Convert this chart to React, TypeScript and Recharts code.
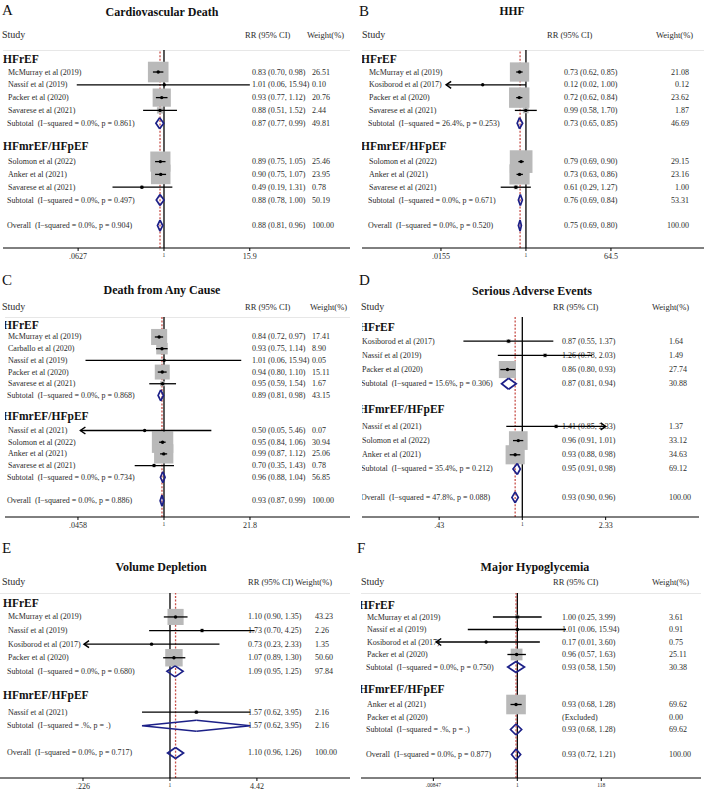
import React from "react";
import { ComposedChart, XAxis, YAxis, Scatter, ReferenceLine } from "recharts";

type Trial = { study: string; rr: number | null; lo: number | null; hi: number | null; w: number; arrow?: "lo" | "hi" };
type Pool = { rr: number; lo: number; hi: number; w: number; i2: string; p: string };

// A. Cardiovascular death
const cvdReduced: Trial[] = [
  { study: "McMurray et al (2019)", rr: 0.83, lo: 0.7, hi: 0.98, w: 26.51 },
  { study: "Nassif et al (2019)", rr: 1.01, lo: 0.06, hi: 15.94, w: 0.1 },
  { study: "Packer et al (2020)", rr: 0.93, lo: 0.77, hi: 1.12, w: 20.76 },
  { study: "Savarese et al (2021)", rr: 0.88, lo: 0.51, hi: 1.52, w: 2.44 },
];
const cvdReducedSub: Pool = { rr: 0.87, lo: 0.77, hi: 0.99, w: 49.81, i2: "0.0", p: "0.861" };
const cvdPreserved: Trial[] = [
  { study: "Solomon et al (2022)", rr: 0.89, lo: 0.75, hi: 1.05, w: 25.46 },
  { study: "Anker et al (2021)", rr: 0.9, lo: 0.75, hi: 1.07, w: 23.95 },
  { study: "Savarese et al (2021)", rr: 0.49, lo: 0.19, hi: 1.31, w: 0.78 },
];
const cvdPreservedSub: Pool = { rr: 0.88, lo: 0.78, hi: 1.0, w: 50.19, i2: "0.0", p: "0.497" };
const cvdOverall: Pool = { rr: 0.88, lo: 0.81, hi: 0.96, w: 100, i2: "0.0", p: "0.904" };

// B. Hospitalisation for heart failure
const hhfReduced: Trial[] = [
  { study: "McMurray et al (2019)", rr: 0.73, lo: 0.62, hi: 0.85, w: 21.08 },
  { study: "Kosiborod et al (2017)", rr: 0.12, lo: 0.02, hi: 1.0, w: 0.12, arrow: "lo" },
  { study: "Packer et al (2020)", rr: 0.72, lo: 0.62, hi: 0.84, w: 23.62 },
  { study: "Savarese et al (2021)", rr: 0.99, lo: 0.58, hi: 1.7, w: 1.87 },
];
const hhfReducedSub: Pool = { rr: 0.73, lo: 0.65, hi: 0.85, w: 46.69, i2: "26.4", p: "0.253" };
const hhfPreserved: Trial[] = [
  { study: "Solomon et al (2022)", rr: 0.79, lo: 0.69, hi: 0.9, w: 29.15 },
  { study: "Anker et al (2021)", rr: 0.73, lo: 0.63, hi: 0.86, w: 23.16 },
  { study: "Savarese et al (2021)", rr: 0.61, lo: 0.29, hi: 1.27, w: 1.0 },
];
const hhfPreservedSub: Pool = { rr: 0.76, lo: 0.69, hi: 0.84, w: 53.31, i2: "0.0", p: "0.671" };
const hhfOverall: Pool = { rr: 0.75, lo: 0.69, hi: 0.8, w: 100, i2: "0.0", p: "0.520" };

// C. Death from any cause
const acmReduced: Trial[] = [
  { study: "McMurray et al (2019)", rr: 0.84, lo: 0.72, hi: 0.97, w: 17.41 },
  { study: "Carballo et al (2020)", rr: 0.93, lo: 0.75, hi: 1.14, w: 8.9 },
  { study: "Nassif et al (2019)", rr: 1.01, lo: 0.06, hi: 15.94, w: 0.05 },
  { study: "Packer et al (2020)", rr: 0.94, lo: 0.8, hi: 1.1, w: 15.11 },
  { study: "Savarese et al (2021)", rr: 0.95, lo: 0.59, hi: 1.54, w: 1.67 },
];
const acmReducedSub: Pool = { rr: 0.89, lo: 0.81, hi: 0.98, w: 43.15, i2: "0.0", p: "0.868" };
const acmPreserved: Trial[] = [
  { study: "Nassif et al (2021)", rr: 0.5, lo: 0.05, hi: 5.46, w: 0.07, arrow: "lo" },
  { study: "Solomon et al (2022)", rr: 0.95, lo: 0.84, hi: 1.06, w: 30.94 },
  { study: "Anker et al (2021)", rr: 0.99, lo: 0.87, hi: 1.12, w: 25.06 },
  { study: "Savarese et al (2021)", rr: 0.7, lo: 0.35, hi: 1.43, w: 0.78 },
];
const acmPreservedSub: Pool = { rr: 0.96, lo: 0.88, hi: 1.04, w: 56.85, i2: "0.0", p: "0.734" };
const acmOverall: Pool = { rr: 0.93, lo: 0.87, hi: 0.99, w: 100, i2: "0.0", p: "0.886" };

// D. Serious adverse events
const saeReduced: Trial[] = [
  { study: "Kosiborod et al (2017)", rr: 0.87, lo: 0.55, hi: 1.37, w: 1.64 },
  { study: "Nassif et al (2019)", rr: 1.26, lo: 0.78, hi: 2.03, w: 1.49 },
  { study: "Packer et al (2020)", rr: 0.86, lo: 0.8, hi: 0.93, w: 27.74 },
];
const saeReducedSub: Pool = { rr: 0.87, lo: 0.81, hi: 0.94, w: 30.88, i2: "15.6", p: "0.306" };
const saePreserved: Trial[] = [
  { study: "Nassif et al (2021)", rr: 1.41, lo: 0.85, hi: 2.33, w: 1.37, arrow: "hi" },
  { study: "Solomon et al (2022)", rr: 0.96, lo: 0.91, hi: 1.01, w: 33.12 },
  { study: "Anker et al (2021)", rr: 0.93, lo: 0.88, hi: 0.98, w: 34.63 },
];
const saePreservedSub: Pool = { rr: 0.95, lo: 0.91, hi: 0.98, w: 69.12, i2: "35.4", p: "0.212" };
const saeOverall: Pool = { rr: 0.93, lo: 0.9, hi: 0.96, w: 100, i2: "47.8", p: "0.088" };

// E. Volume depletion
const vdReduced: Trial[] = [
  { study: "McMurray et al (2019)", rr: 1.1, lo: 0.9, hi: 1.35, w: 43.23 },
  { study: "Nassif et al (2019)", rr: 1.73, lo: 0.7, hi: 4.25, w: 2.26 },
  { study: "Kosiborod et al (2017)", rr: 0.73, lo: 0.23, hi: 2.33, w: 1.35, arrow: "lo" },
  { study: "Packer et al (2020)", rr: 1.07, lo: 0.89, hi: 1.3, w: 50.6 },
];
const vdReducedSub: Pool = { rr: 1.09, lo: 0.95, hi: 1.25, w: 97.84, i2: "0.0", p: "0.680" };
const vdPreserved: Trial[] = [
  { study: "Nassif et al (2021)", rr: 1.57, lo: 0.62, hi: 3.95, w: 2.16 },
];
const vdPreservedSub: Pool = { rr: 1.57, lo: 0.62, hi: 3.95, w: 2.16, i2: ".", p: "." };
const vdOverall: Pool = { rr: 1.1, lo: 0.96, hi: 1.26, w: 100, i2: "0.0", p: "0.717" };

// F. Major hypoglycemia
const hypoReduced: Trial[] = [
  { study: "McMurray et al (2019)", rr: 1.0, lo: 0.25, hi: 3.99, w: 3.61 },
  { study: "Nassif et al (2019)", rr: 1.01, lo: 0.06, hi: 15.94, w: 0.91 },
  { study: "Kosiborod et al (2017)", rr: 0.17, lo: 0.01, hi: 3.6, w: 0.75, arrow: "lo" },
  { study: "Packer et al (2020)", rr: 0.96, lo: 0.57, hi: 1.63, w: 25.11 },
];
const hypoReducedSub: Pool = { rr: 0.93, lo: 0.58, hi: 1.5, w: 30.38, i2: "0.0", p: "0.750" };
const hypoPreserved: Trial[] = [
  { study: "Anker et al (2021)", rr: 0.93, lo: 0.68, hi: 1.28, w: 69.62 },
  { study: "Packer et al (2020)", rr: null, lo: null, hi: null, w: 0 },
];
const hypoPreservedSub: Pool = { rr: 0.93, lo: 0.68, hi: 1.28, w: 69.62, i2: ".", p: "." };
const hypoOverall: Pool = { rr: 0.93, lo: 0.72, hi: 1.21, w: 100, i2: "0.0", p: "0.877" };

const SERIF = '"Liberation Serif", "Times New Roman", serif';
const INK = "#2b2b2b";
const NAVY = "#1c2088";
const REDLINE = "#c8504a";

type Panel = {
  tag: string;
  title: string;
  titleSize: number;
  left: number;
  top: number;
  headY: number;
  axisY: number;
  plotL: number;
  plotR: number;
  domain: [number, number];
  ticks: number[];
  tickText: string[];
  tickSize: number;
  yDomain: [number, number];
  groups: { name: string; trials: Trial[]; sub: Pool }[];
  overall: Pool;
  boxScale: number;
  rule: boolean;
  col: { head: number; study: number; rr: number; w: number; wAnchor: "start" | "end" };
  hdr: { letterX: number; letterY: number; titleX: number; titleY: number; studyX: number; rrX: number; wX: number; y: number };
};

type Row = {
  kind: "head" | "study" | "sub" | "overall";
  pos: number;
  label: string;
  rr?: number | null;
  lo?: number | null;
  hi?: number | null;
  w?: number;
  arrow?: "lo" | "hi";
};

const groupNames = ["HFrEF", "HFmrEF/HFpEF"];

const panels: Panel[] = [
  {
    tag: "A", title: "Cardiovascular Death", titleSize: 12, left: 0, top: 0, headY: 50, axisY: 248,
    plotL: 3, plotR: 350, domain: [0.00556, 403], ticks: [0.0627, 1, 15.9], tickText: [".0627", "1", "15.9"], tickSize: 8,
    yDomain: [-0.72, 14.75],
    groups: [
      { name: groupNames[0], trials: cvdReduced, sub: cvdReducedSub },
      { name: groupNames[1], trials: cvdPreserved, sub: cvdPreservedSub },
    ],
    overall: cvdOverall, boxScale: 4.0, rule: true,
    col: { head: 3, study: 8, rr: 252, w: 312, wAnchor: "start" },
    hdr: { letterX: 2, letterY: 10, titleX: 162, titleY: 12, studyX: 2, rrX: 245, wX: 307, y: 35 },
  },
  {
    tag: "B", title: "HHF", titleSize: 11.5, left: 354, top: 0, headY: 50, axisY: 248,
    plotL: 8, plotR: 350, domain: [0.000323, 6180], ticks: [0.0155, 1, 64.5], tickText: [".0155", "1", "64.5"], tickSize: 8,
    yDomain: [-0.72, 14.75],
    groups: [
      { name: groupNames[0], trials: hhfReduced, sub: hhfReducedSub },
      { name: groupNames[1], trials: hhfPreserved, sub: hhfPreservedSub },
    ],
    overall: hhfOverall, boxScale: 4.2, rule: true,
    col: { head: 7, study: 15, rr: 210, w: 335, wAnchor: "end" },
    hdr: { letterX: 5, letterY: 11, titleX: 158, titleY: 12, studyX: 8, rrX: 193, wX: 302, y: 35 },
  },
  {
    tag: "C", title: "Death from Any Cause", titleSize: 12, left: 0, top: 265, headY: 317, axisY: 517,
    plotL: 5, plotR: 350, domain: [0.00335, 786], ticks: [0.0458, 1, 21.8], tickText: [".0458", "1", "21.8"], tickSize: 8,
    yDomain: [-0.71, 16.4],
    groups: [
      { name: groupNames[0], trials: acmReduced, sub: acmReducedSub },
      { name: groupNames[1], trials: acmPreserved, sub: acmPreservedSub },
    ],
    overall: acmOverall, boxScale: 3.85, rule: true,
    col: { head: 3, study: 8, rr: 252, w: 312, wAnchor: "start" },
    hdr: { letterX: 2, letterY: 15, titleX: 162, titleY: 25, studyX: 2, rrX: 245, wX: 310, y: 42 },
  },
  {
    tag: "D", title: "Serious Adverse Events", titleSize: 12, left: 354, top: 265, headY: 317, axisY: 517,
    plotL: 8, plotR: 345, domain: [0.1965, 6.01], ticks: [0.43, 1, 2.33], tickText: [".43", "1", "2.33"], tickSize: 8,
    yDomain: [-0.7, 13.38],
    groups: [
      { name: groupNames[0], trials: saeReduced, sub: saeReducedSub },
      { name: groupNames[1], trials: saePreserved, sub: saePreservedSub },
    ],
    overall: saeOverall, boxScale: 3.25, rule: false,
    col: { head: 5, study: 8, rr: 208, w: 315, wAnchor: "start" },
    hdr: { letterX: 5, letterY: 15, titleX: 178, titleY: 26, studyX: 7, rrX: 199, wX: 298, y: 42 },
  },
  {
    tag: "E", title: "Volume Depletion", titleSize: 12, left: 0, top: 530, headY: 593, axisY: 778,
    plotL: 0, plotR: 350, domain: [0.0547, 21.7], ticks: [0.226, 1, 4.42], tickText: [".226", "1", "4.42"], tickSize: 8,
    yDomain: [-0.76, 12.84],
    groups: [
      { name: groupNames[0], trials: vdReduced, sub: vdReducedSub },
      { name: groupNames[1], trials: vdPreserved, sub: vdPreservedSub },
    ],
    overall: vdOverall, boxScale: 2.45, rule: true,
    col: { head: 3, study: 8, rr: 248, w: 315, wAnchor: "start" },
    hdr: { letterX: 2, letterY: 18, titleX: 161, titleY: 37, studyX: 2, rrX: 248, wX: 295, y: 52 },
  },
  {
    tag: "F", title: "Major Hypoglycemia", titleSize: 12, left: 354, top: 530, headY: 593, axisY: 778,
    plotL: 7, plotR: 347, domain: [0.000139, 34100], ticks: [0.00847, 1, 118], tickText: [".00847", "1", "118"], tickSize: 5.5,
    yDomain: [-0.92, 13.88],
    groups: [
      { name: groupNames[0], trials: hypoReduced, sub: hypoReducedSub },
      { name: groupNames[1], trials: hypoPreserved, sub: hypoPreservedSub },
    ],
    overall: hypoOverall, boxScale: 2.35, rule: true,
    col: { head: 5, study: 13, rr: 208, w: 315, wAnchor: "start" },
    hdr: { letterX: 3, letterY: 18, titleX: 181, titleY: 37, studyX: 7, rrX: 199, wX: 298, y: 52 },
  },
];

// headings, studies and pooled lines laid out on a row index (y axis)
function buildRows(p: Panel): Row[] {
  const rows: Row[] = [];
  let pos = 0;
  p.groups.forEach((g, gi) => {
    if (gi > 0) pos += 1.75;
    rows.push({ kind: "head", pos, label: g.name });
    pos += gi > 0 ? 1.25 : 1;
    g.trials.forEach((t) => {
      rows.push({ kind: "study", pos, label: t.study, rr: t.rr, lo: t.lo, hi: t.hi, w: t.w, arrow: t.arrow });
      pos += 1;
    });
    const s = g.sub;
    rows.push({ kind: "sub", pos, label: `Subtotal  (I\u2212squared = ${s.i2}%, p = ${s.p})`, rr: s.rr, lo: s.lo, hi: s.hi, w: s.w });
  });
  const o = p.overall;
  rows.push({ kind: "overall", pos: pos + 2, label: `Overall  (I\u2212squared = ${o.i2}%, p = ${o.p})`, rr: o.rr, lo: o.lo, hi: o.hi, w: o.w });
  return rows;
}

const fmt = (v: number) => v.toFixed(2);
const ciText = (r: Row) => (r.rr == null ? "(Excluded)" : `${fmt(r.rr)} (${fmt(r.lo as number)}, ${fmt(r.hi as number)})`);

function CiShape(props: any) {
  const { x1, y1, x2, y2, arrow } = props;
  return (
    <g>
      <line x1={x1} y1={y1} x2={x2} y2={y2} stroke="#000" strokeWidth={1.3} />
      {arrow === "lo" && (
        <polyline points={`${x1 + 5},${y1 - 3.5} ${x1},${y1} ${x1 + 5},${y1 + 3.5}`} fill="none" stroke="#000" strokeWidth={1.5} />
      )}
      {arrow === "hi" && (
        <polyline points={`${x2 - 5},${y2 - 3.5} ${x2},${y2} ${x2 - 5},${y2 + 3.5}`} fill="none" stroke="#000" strokeWidth={1.5} />
      )}
    </g>
  );
}

// one half of a pooled-estimate diamond; the point estimate is the shared vertex
function HalfDiamond(props: any) {
  const { x1, y1, x2, side } = props;
  const h = 5.5;
  const d = side === "left" ? `M ${x2} ${y1 - h} L ${x1} ${y1} L ${x2} ${y1 + h}` : `M ${x1} ${y1 - h} L ${x2} ${y1} L ${x1} ${y1 + h}`;
  return <path d={d} fill="none" stroke={NAVY} strokeWidth={1.7} strokeLinejoin="miter" />;
}

// row text: only cy comes from the point, the columns are fixed across the panel
function RowText({ cy, row, p }: { cy: number; row: Row; p: Panel }) {
  if (row.kind === "head") {
    return (
      <text x={p.col.head} y={cy} dominantBaseline="central" fontFamily={SERIF} fontWeight="bold" fontSize={11.5} fill="#111">
        {row.label}
      </text>
    );
  }
  const lx = row.kind === "study" ? p.col.study : p.col.study - 1;
  return (
    <g fontFamily={SERIF} fontSize={8} fill={INK}>
      <text x={lx} y={cy} dominantBaseline="central" style={{ whiteSpace: "pre" }}>
        {row.label}
      </text>
      <text x={p.col.rr} y={cy} dominantBaseline="central">
        {ciText(row)}
      </text>
      <text x={p.col.w} y={cy} dominantBaseline="central" textAnchor={p.col.wAnchor}>
        {fmt(row.w as number)}
      </text>
    </g>
  );
}

function ForestPanel({ p }: { p: Panel }) {
  const rows = buildRows(p);
  const studies = rows.filter((r) => r.kind === "study" && r.rr != null);
  const pooled = rows.filter((r) => r.kind === "sub" || r.kind === "overall");
  const boxes = studies.map((r) => ({ x: r.rr, y: r.pos, w: r.w }));
  const labels = rows.map((r, i) => ({ x: 1, y: r.pos, i }));
  const plotH = p.axisY - p.headY;

  const xTick = (tp: any) => {
    const i = p.ticks.indexOf(tp.payload.value);
    const label = p.tickText[i] ?? "";
    const size = label === "1" ? 5.5 : p.tickSize;
    return (
      <text x={tp.x} y={tp.y + 1} textAnchor="middle" dominantBaseline="hanging" fontFamily={SERIF} fontSize={size} fill={INK}>
        {label}
      </text>
    );
  };

  const hdrText = { position: "absolute" as const, lineHeight: 1, whiteSpace: "nowrap" as const, fontFamily: SERIF, color: INK };

  return (
    <div style={{ position: "absolute", left: p.left, top: p.top, width: 354, height: 268 }}>
      <div style={{ ...hdrText, left: p.hdr.letterX, top: p.hdr.letterY, fontSize: 15, transform: "translateY(-50%)", color: "#111" }}>{p.tag}</div>
      <div style={{ ...hdrText, left: p.hdr.titleX, top: p.hdr.titleY, fontSize: p.titleSize, fontWeight: "bold", transform: "translate(-50%, -50%)", color: "#111" }}>
        {p.title}
      </div>
      <div style={{ ...hdrText, left: p.hdr.studyX, top: p.hdr.y, fontSize: 10, transform: "translateY(-50%)" }}>Study</div>
      <div style={{ ...hdrText, left: p.hdr.rrX, top: p.hdr.y, fontSize: 8.5, transform: "translateY(-50%)" }}>RR (95% CI)</div>
      <div style={{ ...hdrText, left: p.hdr.wX, top: p.hdr.y, fontSize: 8.5, transform: "translateY(-50%)" }}>Weight(%)</div>
      <div style={{ position: "absolute", left: 0, top: p.headY - p.top }}>
        <ComposedChart width={354} height={plotH + 22} margin={{ top: 0, right: 354 - p.plotR, bottom: 0, left: p.plotL }}>
          <XAxis
            type="number"
            dataKey="x"
            scale="log"
            domain={p.domain}
            allowDataOverflow
            ticks={p.ticks}
            interval={0}
            height={22}
            tickSize={3}
            tickMargin={1}
            axisLine={{ stroke: "#000", strokeWidth: 1 }}
            tickLine={{ stroke: "#000" }}
            tick={xTick}
          />
          <YAxis type="number" dataKey="y" domain={p.yDomain} allowDataOverflow reversed hide />
          {p.rule && <ReferenceLine y={p.yDomain[0]} stroke="#cfcfcf" strokeWidth={1} ifOverflow="visible" zIndex={50} />}
          <ReferenceLine x={1} stroke="#000" strokeWidth={1.3} ifOverflow="visible" zIndex={100} />
          <ReferenceLine x={p.overall.rr} stroke={REDLINE} strokeWidth={1.3} strokeDasharray="2 1.6" ifOverflow="visible" zIndex={100} />
          <Scatter
            data={labels}
            isAnimationActive={false}
            zIndex={150}
            shape={(sp: any) => <RowText cy={sp.cy} row={rows[sp.payload.i]} p={p} />}
          />
          <Scatter
            data={boxes}
            isAnimationActive={false}
            zIndex={200}
            shape={(sp: any) => {
              const s = p.boxScale * Math.sqrt(sp.payload.w);
              return <rect x={sp.cx - s / 2} y={sp.cy - s / 2} width={s} height={s} fill="#b9b9b9" />;
            }}
          />
          {studies.map((r, i) => (
            <ReferenceLine
              key={`ci-${i}`}
              segment={[{ x: r.lo as number, y: r.pos }, { x: r.hi as number, y: r.pos }]}
              ifOverflow="visible"
              zIndex={300}
              shape={(lp: any) => <CiShape {...lp} arrow={r.arrow} />}
            />
          ))}
          <Scatter
            data={boxes}
            isAnimationActive={false}
            zIndex={400}
            shape={(sp: any) => <circle cx={sp.cx} cy={sp.cy} r={1.7} fill="#000" />}
          />
          {pooled.map((r, i) => (
            <ReferenceLine
              key={`dl-${i}`}
              segment={[{ x: r.lo as number, y: r.pos }, { x: r.rr as number, y: r.pos }]}
              ifOverflow="visible"
              zIndex={500}
              shape={(lp: any) => <HalfDiamond {...lp} side="left" />}
            />
          ))}
          {pooled.map((r, i) => (
            <ReferenceLine
              key={`dr-${i}`}
              segment={[{ x: r.rr as number, y: r.pos }, { x: r.hi as number, y: r.pos }]}
              ifOverflow="visible"
              zIndex={500}
              shape={(lp: any) => <HalfDiamond {...lp} side="right" />}
            />
          ))}
        </ComposedChart>
      </div>
    </div>
  );
}

export default function App() {
  return (
    <div style={{ position: "absolute", left: 0, top: 0, width: 708, height: 794, background: "#fff", overflow: "hidden" }}>
      {panels.map((p) => (
        <ForestPanel key={p.tag} p={p} />
      ))}
    </div>
  );
}
